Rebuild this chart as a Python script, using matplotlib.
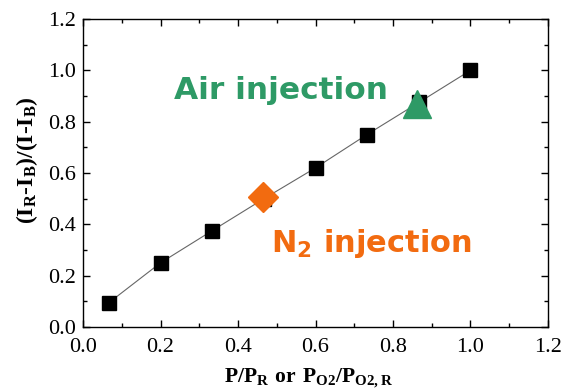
import matplotlib
matplotlib.use("Agg")
import matplotlib.pyplot as plt
from matplotlib.ticker import MultipleLocator, FormatStrFormatter

plt.rcParams['mathtext.fontset'] = 'custom'
plt.rcParams['mathtext.rm'] = 'Liberation Serif'
plt.rcParams['mathtext.bf'] = 'Liberation Serif:bold'
plt.rcParams['mathtext.sf'] = 'DejaVu Sans:bold'

x_ref = [0.067, 0.2, 0.333, 0.467, 0.6, 0.733, 0.867, 1.0]
y_ref = [0.095, 0.25, 0.375, 0.5, 0.62, 0.75, 0.875, 1.0]
x_n2, y_n2 = [0.465], [0.505]
x_air, y_air = [0.863], [0.87]

fig = plt.figure(figsize=(5.71, 3.92), dpi=100)
ax = fig.add_axes([0.1454, 0.1658, 0.8143, 0.7857])

ax.plot(x_ref, y_ref, color='#666666', lw=0.8, zorder=1)
ax.plot(x_ref, y_ref, ls='none', marker='s', ms=10, color='black', zorder=2)
ax.plot(x_n2, y_n2, ls='none', marker='D', ms=15, color='#f26b10', zorder=3)
ax.plot(x_air, y_air, ls='none', marker='^', ms=20, color='#2e9a66', zorder=3)

ax.text(0.235, 0.92, 'Air injection', color='#2e9a66', fontsize=22.5,
        fontfamily='DejaVu Sans', fontweight='bold', va='center', ha='left')
ax.text(0.485, 0.325, r'$\mathsf{N_2}$ injection', color='#f26b10', fontsize=22,
        fontfamily='DejaVu Sans', fontweight='bold', va='center', ha='left')

ax.set_xlim(0, 1.2)
ax.set_ylim(0, 1.2)
ax.xaxis.set_major_locator(MultipleLocator(0.2))
ax.xaxis.set_minor_locator(MultipleLocator(0.1))
ax.yaxis.set_major_locator(MultipleLocator(0.2))
ax.yaxis.set_minor_locator(MultipleLocator(0.1))
ax.xaxis.set_major_formatter(FormatStrFormatter('%.1f'))
ax.yaxis.set_major_formatter(FormatStrFormatter('%.1f'))
ax.tick_params(which='both', direction='in', top=True, right=True, width=1)
ax.tick_params(which='major', length=5, labelsize=16)
ax.tick_params(which='minor', length=3)
ax.tick_params(axis='x', which='major', pad=8)
ax.tick_params(axis='y', which='major', pad=5)
for lab in ax.get_xticklabels() + ax.get_yticklabels():
    lab.set_fontfamily('Liberation Serif')
for s in ax.spines.values():
    s.set_linewidth(1)

ax.set_xlabel(r'$\mathbf{P/P_R\ or\ P_{O2}/P_{O2,R}}$', fontsize=15.5)
ax.set_ylabel(r'$\mathbf{(I_R\text{-}I_B)/(I\text{-}I_B)}$', fontsize=17)
ax.xaxis.set_label_coords(0.486, -0.13)
ax.yaxis.set_label_coords(-0.092, 0.542)

fig.savefig('out.png', dpi=100)
